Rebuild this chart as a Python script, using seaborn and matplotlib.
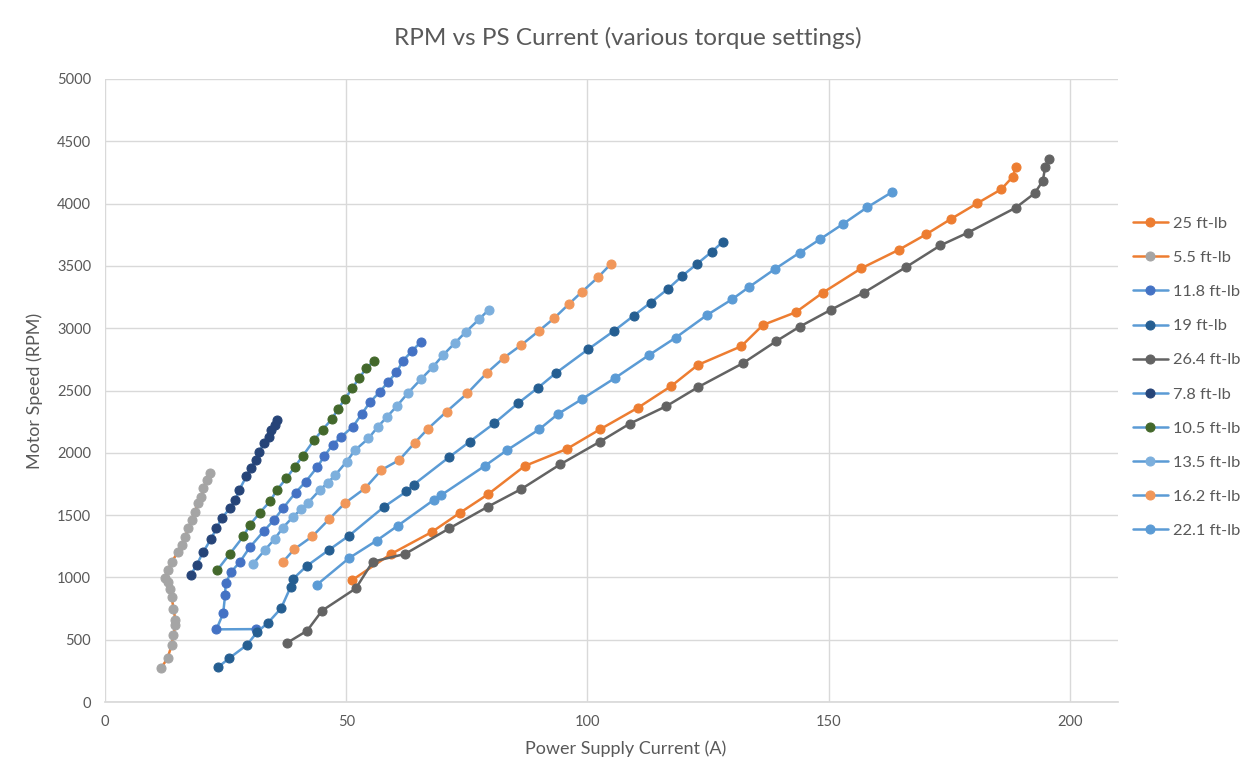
import matplotlib
matplotlib.use("Agg")
import matplotlib.pyplot as plt
import seaborn as sns
import pandas as pd

sns.set_theme(style="white")
plt.rcParams['font.family'] = ['Lato', 'DejaVu Sans']

# ---- data (current in A, speed in RPM) ----
labels = ["25 ft-lb", "5.5 ft-lb", "11.8 ft-lb", "19 ft-lb", "26.4 ft-lb",
          "7.8 ft-lb", "10.5 ft-lb", "13.5 ft-lb", "16.2 ft-lb", "22.1 ft-lb"]

cur_25 = [51.3, 59.3, 67.7, 73.6, 79.4, 87.0, 95.7, 102.7, 110.5, 117.4, 122.9, 131.9,
          136.4, 143.2, 148.8, 156.8, 164.6, 170.3, 175.3, 180.8, 185.8, 188.2, 188.8]
rpm_25 = [980, 1188, 1363, 1519, 1667, 1894, 2030, 2190, 2362, 2536, 2705, 2855,
          3026, 3128, 3285, 3481, 3630, 3755, 3875, 4002, 4115, 4216, 4296]

cur_5_5 = [11.7, 13.0, 13.8, 14.2, 14.6, 14.6, 14.2, 13.8, 13.5, 13.0, 12.4, 13.1, 13.8,
           15.2, 15.9, 16.6, 17.3, 18.0, 18.6, 19.3, 20.0, 20.4, 21.1, 21.8]
rpm_5_5 = [275, 355, 455, 540, 615, 655, 750, 845, 910, 965, 995, 1060, 1125,
           1206, 1260, 1327, 1394, 1461, 1527, 1595, 1648, 1715, 1782, 1840]

cur_11_8 = [31.3, 23.1, 24.5, 24.9, 25.0, 26.2, 28.0, 30.0, 33.0, 35.0, 36.9, 39.5, 41.6,
            44.0, 45.5, 47.2, 49.0, 51.4, 53.2, 55.0, 57.0, 58.7, 60.4, 61.8, 63.7, 65.5]
rpm_11_8 = [585, 583, 712, 859, 952, 1046, 1126, 1241, 1375, 1460, 1555, 1680, 1768,
            1885, 1975, 2065, 2130, 2210, 2310, 2410, 2490, 2570, 2645, 2740, 2820, 2890]

cur_19 = [23.4, 25.7, 29.4, 31.6, 33.8, 36.5, 38.5, 38.9, 41.8, 46.4, 50.6, 57.8, 62.5,
          64.0, 71.3, 75.6, 80.7, 85.6, 89.8, 93.4, 100.2, 105.5, 109.6, 113.1, 116.7,
          119.7, 122.7, 125.8, 128.1]
rpm_19 = [278, 350, 457, 564, 636, 752, 925, 985, 1091, 1220, 1335, 1565, 1690,
          1745, 1964, 2089, 2237, 2397, 2523, 2638, 2832, 2978, 3100, 3205, 3315,
          3421, 3515, 3614, 3694]

cur_26_4 = [37.8, 41.9, 45.0, 52.0, 55.5, 62.2, 71.4, 79.4, 86.3, 94.4, 102.6, 108.8,
            116.4, 122.9, 132.2, 139.2, 144.0, 150.4, 157.3, 166.0, 173.2, 178.9,
            188.8, 192.7, 194.4, 194.9, 195.7]
rpm_26_4 = [476, 572, 733, 912, 1126, 1188, 1394, 1568, 1709, 1908, 2089, 2234,
            2375, 2526, 2718, 2897, 3012, 3146, 3285, 3489, 3665, 3767,
            3967, 4082, 4181, 4291, 4358]

cur_7_8 = [17.8, 19.0, 20.3, 22.0, 23.1, 24.2, 25.9, 27.0, 27.8, 29.3, 30.2, 31.2,
           31.9, 33.0, 34.0, 34.5, 35.2, 35.7]
rpm_7_8 = [1020, 1100, 1200, 1310, 1395, 1475, 1555, 1620, 1700, 1810, 1875, 1940,
           2010, 2075, 2130, 2180, 2225, 2265]

cur_10_5 = [23.3, 25.9, 28.7, 30.0, 32.1, 34.2, 35.7, 37.6, 39.4, 41.0, 43.3, 45.1,
            47.0, 48.3, 49.7, 51.3, 52.7, 54.2, 55.8]
rpm_10_5 = [1060, 1190, 1330, 1420, 1520, 1610, 1705, 1795, 1890, 1975, 2100, 2185,
            2270, 2350, 2430, 2520, 2600, 2680, 2740]

cur_13_5 = [30.7, 33.2, 35.2, 36.9, 39.0, 40.6, 42.1, 44.5, 46.2, 47.7, 50.1, 51.8,
            54.6, 56.6, 58.5, 60.5, 62.8, 65.6, 68.0, 70.1, 72.5, 74.8, 77.5, 79.6]
rpm_13_5 = [1110, 1222, 1310, 1400, 1487, 1545, 1600, 1700, 1760, 1820, 1930, 2020,
            2115, 2210, 2290, 2375, 2480, 2595, 2690, 2785, 2880, 2970, 3070, 3150]

cur_16_2 = [36.8, 39.2, 43.0, 46.4, 49.7, 53.9, 57.3, 61.0, 64.2, 67.0, 70.8, 75.1,
            79.2, 82.7, 86.3, 90.0, 93.1, 96.2, 98.9, 102.2, 104.8]
rpm_16_2 = [1120, 1225, 1330, 1465, 1595, 1715, 1862, 1942, 2080, 2195, 2330, 2477,
            2643, 2763, 2865, 2980, 3080, 3195, 3293, 3408, 3513]

cur_22_1 = [43.9, 50.6, 56.3, 60.7, 68.2, 69.6, 78.7, 83.3, 90.0, 93.9, 98.8, 105.8,
            112.8, 118.3, 124.7, 130.0, 133.5, 138.8, 144.0, 148.3, 152.9, 158.0, 163.1]
rpm_22_1 = [940, 1155, 1295, 1415, 1623, 1658, 1894, 2020, 2188, 2311, 2429, 2602,
            2785, 2924, 3103, 3232, 3330, 3473, 3606, 3716, 3834, 3970, 4091]

currents = [cur_25, cur_5_5, cur_11_8, cur_19, cur_26_4, cur_7_8, cur_10_5, cur_13_5, cur_16_2, cur_22_1]
speeds = [rpm_25, rpm_5_5, rpm_11_8, rpm_19, rpm_26_4, rpm_7_8, rpm_10_5, rpm_13_5, rpm_16_2, rpm_22_1]

line_colors = ["#ED7D31", "#ED7D31", "#5B9BD5", "#5B9BD5", "#636363",
               "#5B9BD5", "#5B9BD5", "#5B9BD5", "#5B9BD5", "#5B9BD5"]
marker_colors = ["#ED7D31", "#A5A5A5", "#4472C4", "#255E91", "#636363",
                 "#264478", "#43682B", "#7CAFDD", "#F1975A", "#5B9BD5"]

fig = plt.figure(figsize=(12.53, 7.63), dpi=100)
ax = fig.add_axes([105/1253, 1 - 702/763, (1118-105)/1253, (702-79)/763])

for lab, xs, ys, lc, mc in zip(labels, currents, speeds, line_colors, marker_colors):
    df = pd.DataFrame({"I": xs, "RPM": ys})
    sns.lineplot(data=df, x="I", y="RPM", ax=ax, sort=False, estimator=None,
                 color=lc, lw=1.8, marker="o", markersize=6.5,
                 markerfacecolor=mc, markeredgecolor=mc, label=lab)

ax.set_xlim(0, 210)
ax.set_ylim(0, 5000)
ax.set_xticks([0, 50, 100, 150, 200])
ax.set_yticks(range(0, 5001, 500))
ax.grid(True, color="#D9D9D9", lw=1)
for s in ["top", "right", "left"]:
    ax.spines[s].set_visible(False)
ax.spines["bottom"].set_color("#D9D9D9")
ax.tick_params(axis="both", colors="#595959", labelsize=10.5, length=0)
ax.tick_params(axis="y", pad=10)
ax.tick_params(axis="x", pad=9)

ax.set_xlabel("Power Supply Current (A)", color="#595959", fontsize=13, labelpad=6)
ax.xaxis.set_label_coords((626 - 105) / 1013, -0.062)
ax.set_ylabel("Motor Speed (RPM)", color="#595959", fontsize=13, labelpad=10)
fig.text(628/1253, 1 - 38/763, "RPM vs PS Current (various torque settings)",
         ha="center", va="center", fontsize=17.5, color="#595959")

leg = ax.legend(loc="upper left", bbox_to_anchor=(1.008, 0.79), frameon=False,
                fontsize=11.8, labelspacing=1.2, handlelength=2.15, handletextpad=0.3,
                borderaxespad=0)
for t in leg.get_texts():
    t.set_color("#595959")

fig.savefig("out.png", dpi=100)
